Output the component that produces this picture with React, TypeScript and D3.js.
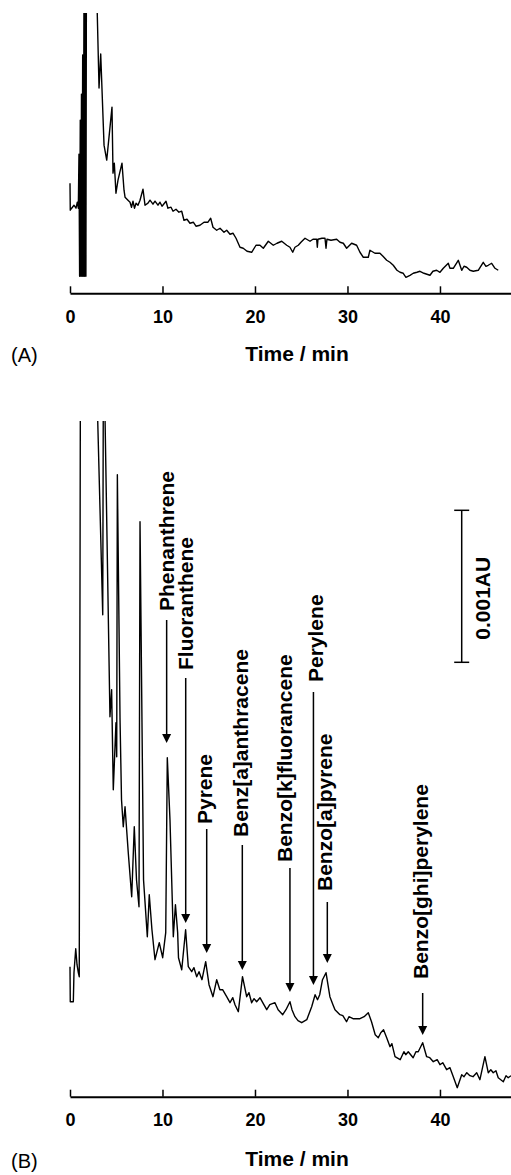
import React, { useEffect, useRef } from 'react';
import * as d3 from 'd3';

// chromatogram (A): blank / background run
const timeA = [0, 0.03, 0.18, 0.43, 0.65, 0.79, 0.9, 0.97, 1.04, 1.11, 1.18, 1.24, 1.31, 1.37, 1.44, 1.51, 1.58, 1.65, 1.72, 1.77, 2.92, 3.14, 3.32, 3.68, 3.97, 4.54, 4.65, 4.79, 4.97, 5.19, 5.62, 5.84, 5.95, 6.27, 6.49, 6.65, 6.81, 6.97, 7.14, 7.35, 7.57, 7.89, 8.11, 8.43, 8.65, 8.97, 9.19, 9.51, 9.73, 9.95, 10.38, 10.59, 10.92, 11.14, 11.46, 11.78, 12.08, 12.32, 12.65, 12.97, 13.33, 13.62, 14.05, 14.49, 14.92, 15.21, 15.46, 15.86, 16.22, 16.65, 16.94, 17.3, 17.62, 17.95, 18.38, 18.73, 19.14, 19.64, 20.11, 20.54, 20.9, 21.44, 21.98, 22.38, 22.89, 23.43, 23.78, 24.08, 24.32, 24.68, 24.97, 25.41, 25.95, 26.27, 26.67, 26.74, 26.81, 27.24, 27.57, 27.68, 27.78, 28.22, 28.83, 29.19, 29.55, 29.91, 30.45, 30.99, 31.35, 31.71, 32.25, 32.43, 32.97, 33.51, 33.84, 34.24, 34.59, 34.95, 35.35, 35.68, 36.03, 36.32, 36.76, 37.11, 37.51, 37.84, 38.27, 38.92, 39.24, 39.64, 40, 40.36, 40.9, 41.08, 41.44, 41.98, 42.35, 42.6, 42.89, 43.24, 43.6, 44.14, 44.68, 44.97, 45.22, 45.59, 45.95, 46.3];
const signalA = [110, 83, 85, 88, 85, 91, 85, 139, 17, 173, 17, 199, 17, 238, 17, 300, 17, 300, 17, 290, 290, 205, 239, 148, 133, 186, 120, 130, 100, 113, 130, 103, 96, 93, 91, 86, 92, 85, 90, 88, 93, 104, 88, 90, 93, 89, 92, 88, 91, 87, 92, 85, 86, 82, 84, 81, 82, 73, 74, 70, 71, 67, 68, 71, 71, 75, 66, 63, 65, 61, 63, 59, 60, 55, 46, 45, 42, 41, 48, 48, 45, 52, 48, 50, 52, 48, 46, 41, 46, 48, 51, 55, 52, 54, 54, 46, 54, 55, 55, 45, 54, 53, 54, 51, 50, 45, 50, 48, 41, 36, 36, 43, 40, 40, 37, 33, 31, 28, 23, 21, 20, 16, 18, 20, 21, 22, 20, 18, 22, 23, 21, 25, 30, 25, 25, 33, 23, 27, 26, 23, 22, 23, 31, 27, 28, 30, 25, 23];

// chromatogram (B): sample with PAH peaks
const timeB = [0, 0.03, 0.36, 0.43, 0.62, 0.76, 0.9, 1.0, 1.12, 2.93, 3.54, 3.6, 3.75, 4.32, 4.5, 4.68, 4.97, 5.05, 5.12, 5.41, 5.57, 5.76, 5.95, 6.3, 6.67, 6.95, 7.19, 7.46, 7.57, 7.95, 8.36, 8.57, 8.86, 9.19, 9.65, 10.02, 10.35, 10.52, 10.81, 11.17, 11.4, 11.64, 11.73, 12.08, 12.5, 12.79, 13.16, 13.4, 13.7, 13.95, 14.27, 14.67, 15.03, 15.46, 15.86, 16.2, 16.5, 16.94, 17.3, 17.6, 17.84, 18.2, 18.65, 19.1, 19.35, 19.64, 19.9, 20.18, 20.54, 20.9, 21.27, 21.6, 22.16, 22.5, 23, 23.35, 23.78, 24, 24.32, 24.65, 25.05, 25.6, 26.13, 26.5, 26.76, 27, 27.3, 27.68, 28.1, 28.43, 28.65, 29.19, 29.5, 29.9, 30.16, 30.6, 31.35, 31.8, 32.25, 32.6, 33, 33.33, 33.6, 33.9, 34.24, 34.6, 34.8, 35.14, 35.7, 36.1, 36.3, 36.57, 37.1, 37.4, 37.65, 38.13, 38.56, 38.9, 39.28, 39.7, 40, 40.3, 40.72, 41.08, 41.44, 41.87, 42.35, 42.6, 42.9, 43.24, 43.57, 43.97, 44.32, 44.86, 45.22, 45.5, 45.76, 46.05, 46.3, 46.85, 47.14, 47.38, 47.68];
const signalB = [130, 95, 95, 124, 148, 132, 124, 120, 700, 700, 482, 700, 700, 380, 407, 307, 374, 340, 622, 377, 297, 270, 290, 244, 200, 270, 217, 190, 575, 217, 160, 202, 167, 137, 154, 139, 164, 339, 277, 160, 192, 164, 139, 127, 167, 130, 125, 129, 120, 125, 117, 135, 112, 100, 117, 107, 107, 100, 94, 99, 92, 85, 120, 100, 104, 94, 98, 95, 99, 93, 87, 92, 94, 87, 82, 87, 95, 87, 80, 76, 74, 77, 90, 102, 97, 102, 117, 124, 100, 92, 87, 82, 81, 75, 80, 78, 78, 80, 84, 75, 62, 59, 64, 67, 59, 50, 53, 40, 37, 45, 42, 45, 39, 45, 45, 54, 40, 39, 35, 37, 32, 34, 27, 29, 20, 9, 22, 20, 24, 21, 20, 24, 17, 40, 24, 27, 24, 26, 19, 15, 21, 19, 21];

const peakNames = ['Phenanthrene', 'Fluoranthene', 'Pyrene', 'Benz[a]anthracene', 'Benzo[k]fluorancene', 'Perylene', 'Benzo[a]pyrene', 'Benzo[ghi]perylene'];
const peakTimes = [10.45, 12.51, 14.78, 18.63, 23.78, 26.32, 27.82, 38.13];

const tickValues = [0, 10, 20, 30, 40];
const scaleBarLabel = '0.001AU';
const scaleBarSignal = 152; // detector units equal to 0.001 AU

// label layout: [text bottom, arrow start, arrow tip, text x offset]
const labelLayout = [
  [611, 620, 743, -0.5],
  [670, 678, 923, -0.4],
  [824, 829, 953, -1.7],
  [837, 845, 970, -1.3],
  [862, 868, 992, -5.7],
  [682, 692, 985, 2.5],
  [891, 902, 963, -2.3],
  [979, 993, 1035, -1.7],
];

const FONT = '"Liberation Sans", Arial, Helvetica, sans-serif';

const App = () => {
  const ref = useRef<SVGSVGElement>(null);

  useEffect(() => {
    const svg = d3.select(ref.current);
    svg.selectAll('*').remove();

    const x = d3.scaleLinear().domain([0, 47.68]).range([70, 511]);

    const panels = [
      { id: 'A', time: timeA, signal: signalA, top: 13, axisY: 293.3, y: d3.scaleLinear().domain([0, 280]).range([293.3, 13]), titleY: 361, tagY: 362 },
      { id: 'B', time: timeB, signal: signalB, top: 421, axisY: 1096.7, y: d3.scaleLinear().domain([0, 675.7]).range([1096.7, 421]), titleY: 1166, tagY: 1168 },
    ];

    const defs = svg.append('defs');

    panels.forEach(p => {
      defs.append('clipPath').attr('id', `clip${p.id}`)
        .append('rect').attr('x', 0).attr('y', p.top).attr('width', 511).attr('height', p.axisY - p.top);

      const pts = d3.zip(p.time, p.signal) as [number, number][];
      const line = d3.line<[number, number]>().x(d => x(d[0])).y(d => p.y(d[1]));

      svg.append('path')
        .datum(pts)
        .attr('clip-path', `url(#clip${p.id})`)
        .attr('fill', 'none')
        .attr('stroke', '#000')
        .attr('stroke-width', 1.4)
        .attr('stroke-linejoin', 'round')
        .attr('d', line);

      const ax = svg.append('g')
        .attr('transform', `translate(0,${p.axisY})`)
        .call(d3.axisBottom(x).tickValues(tickValues).tickSizeInner(-7).tickSizeOuter(0).tickPadding(17));
      ax.select('.domain').attr('stroke-width', 2);
      ax.selectAll('.tick line').attr('stroke-width', 1.5);
      ax.selectAll('.tick text')
        .attr('font-family', FONT)
        .attr('font-size', 18)
        .attr('font-weight', 'bold')
        .attr('fill', '#000');

      svg.append('text')
        .attr('x', 297).attr('y', p.titleY)
        .attr('text-anchor', 'middle')
        .attr('font-family', FONT).attr('font-size', 21).attr('font-weight', 'bold')
        .text('Time / min');

      svg.append('text')
        .attr('x', 11).attr('y', p.tagY)
        .attr('font-family', FONT).attr('font-size', 20)
        .text(`(${p.id})`);
    });

    // peak labels with arrows (panel B)
    const yB = panels[1].y;
    peakNames.forEach((name, i) => {
      const [bottom, start, tip, dx] = labelLayout[i];
      const axp = x(peakTimes[i]);
      const tx = axp + dx;
      svg.append('text')
        .attr('transform', `translate(${tx},${bottom}) rotate(-90)`)
        .attr('dy', '0.35em')
        .attr('font-family', FONT).attr('font-size', 21).attr('font-weight', 'bold')
        .text(name);
      svg.append('line')
        .attr('x1', axp).attr('x2', axp)
        .attr('y1', start).attr('y2', tip - 8)
        .attr('stroke', '#000').attr('stroke-width', 1.5);
      svg.append('path')
        .attr('d', `M${axp - 4.5},${tip - 9}L${axp + 4.5},${tip - 9}L${axp},${tip}Z`)
        .attr('fill', '#000');
    });

    // scale bar
    const barX = 461.7;
    const barBase = yB.invert(662.3);
    const y0 = yB(barBase);
    const y1 = yB(barBase + scaleBarSignal);
    const bar = svg.append('g').attr('stroke', '#000').attr('stroke-width', 1.5);
    bar.append('line').attr('x1', barX).attr('x2', barX).attr('y1', y1).attr('y2', y0);
    bar.append('line').attr('x1', barX - 7.5).attr('x2', barX + 7.5).attr('y1', y1).attr('y2', y1);
    bar.append('line').attr('x1', barX - 7.5).attr('x2', barX + 7.5).attr('y1', y0).attr('y2', y0);
    svg.append('text')
      .attr('transform', `translate(482.5,${(y0 + y1) / 2 + 12}) rotate(-90)`)
      .attr('dy', '0.35em')
      .attr('text-anchor', 'middle')
      .attr('font-family', FONT).attr('font-size', 21).attr('font-weight', 'bold')
      .text(scaleBarLabel);
  }, []);

  return (
    <svg ref={ref} width={511} height={1175}
      style={{ position: 'absolute', left: 0, top: 0, background: '#fff' }} />
  );
};

export default App;
